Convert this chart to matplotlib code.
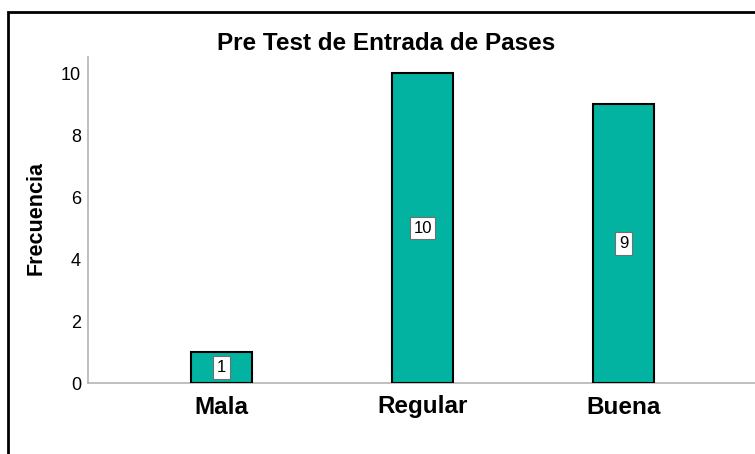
import matplotlib.pyplot as plt
from matplotlib.patches import Rectangle

categories = ['Mala', 'Regular', 'Buena']
frecuencia = [1, 10, 9]
y_ticks = [0, 2, 4, 6, 8, 10]

plt.rcParams['font.family'] = ['Liberation Sans', 'DejaVu Sans']

fig = plt.figure(figsize=(7.55, 4.54), dpi=100)
ax = fig.add_axes([88 / 755, 1 - 383 / 454, 1 - 88 / 755, (383 - 57) / 454])

x = range(len(categories))
bars = ax.bar(x, frecuencia, width=0.303, color='#01b3a0',
              edgecolor='black', linewidth=1.5, zorder=3)

# value boxes in the middle of each bar
for xi, val in zip(x, frecuencia):
    ax.text(xi, val / 2, str(val), ha='center', va='center', fontsize=12,
            zorder=4,
            bbox=dict(boxstyle='square,pad=0.22', facecolor='white',
                      edgecolor='#707070', linewidth=0.8))

ax.set_xlim(-0.664, 2.654)
ax.set_ylim(0, 10.52)
ax.set_yticks(y_ticks)
ax.set_xticks(list(x))
ax.set_xticklabels(categories, fontsize=17.5, fontweight='bold')
ax.tick_params(axis='y', length=0, labelsize=13, pad=5)
ax.tick_params(axis='x', length=0, pad=9)

for s in ['top', 'right']:
    ax.spines[s].set_visible(False)
for s in ['left', 'bottom']:
    ax.spines[s].set_color('#b4b4b4')
    ax.spines[s].set_linewidth(1.2)

fig.text(386 / 755, 1 - 44 / 454, 'Pre Test de Entrada de Pases',
         ha='center', va='center', fontsize=17.5, fontweight='bold')
fig.text(36 / 755, 1 - 218 / 454, 'Frecuencia', rotation=90,
         ha='center', va='center', fontsize=15.5, fontweight='bold')

# outer frame (cut off at right and bottom like the source)
fig.patches.append(Rectangle((8 / 755, -0.2), 2, 1.2 - 12 / 454,
                             transform=fig.transFigure, fill=False,
                             edgecolor='black', linewidth=2))

fig.savefig('out.png', dpi=100)
